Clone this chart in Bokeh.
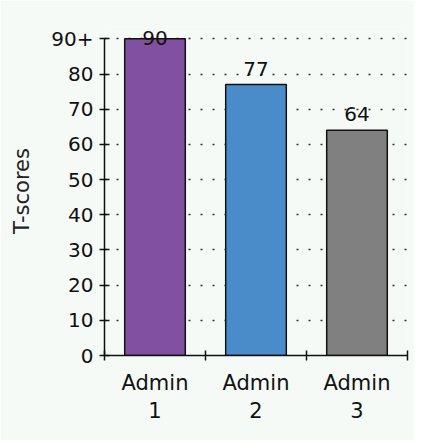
from bokeh.plotting import figure
from bokeh.models import Range1d, FixedTicker, ColumnDataSource, LabelSet
from bokeh.core.properties import value
from bokeh.embed import file_html
from bokeh.resources import INLINE

# ---- data ----
categories = ["Admin 1", "Admin 2", "Admin 3"]
scores = [90, 77, 64]
bar_colors = ["#8250a0", "#4a8bc9", "#808080"]
y_ticks = [0, 10, 20, 30, 40, 50, 60, 70, 80, 90]
y_tick_labels = ["0", "10", "20", "30", "40", "50", "60", "70", "80", "90+"]
y_label = "T-scores"

BG = "#f5faf6"
FONT = "DejaVu Sans"
y_max = y_ticks[-1]

n = len(categories)
centers = [i + 0.5 for i in range(n)]
bounds = [float(i) for i in range(n + 1)]

# a little headroom above 90 so the top data label is not clipped
p = figure(width=414, height=440, output_backend="svg", toolbar_location=None,
           x_range=Range1d(0, n), y_range=Range1d(0, y_max + 3.5),
           min_border_left=104, min_border_right=7, min_border_top=26, min_border_bottom=85)
p.background_fill_color = BG
p.border_fill_color = BG
p.outline_line_color = None

src = ColumnDataSource(dict(
    x=centers, top=scores, color=bar_colors,
    label=[str(v) for v in scores],
    off=[9 if v < y_max else -6 for v in scores],
))

p.vbar(x="x", top="top", width=0.6, fill_color="color", line_color="#111111",
       line_width=1.5, source=src)

labels = LabelSet(x="x", y="top", text="label", y_offset="off", source=src,
                  text_align="center", text_baseline="bottom",
                  text_font=value(FONT), text_font_size="20px", text_color="#111111")
p.add_layout(labels)

# x axis: labels at centres, ticks at category boundaries
xa = p.xaxis[0]
xa.ticker = FixedTicker(ticks=centers, minor_ticks=bounds)
xa.major_label_overrides = {c: cat.replace(" ", "\n") for c, cat in zip(centers, categories)}
xa.major_tick_in = 0
xa.major_tick_out = 0
xa.minor_tick_in = 5
xa.minor_tick_out = 5
xa.minor_tick_line_color = "#111111"
xa.minor_tick_line_width = 1.5
xa.axis_line_color = "#111111"
xa.axis_line_width = 1.5
xa.major_label_standoff = 10
xa.major_label_text_font = FONT
xa.major_label_text_font_size = "21px"
xa.major_label_text_color = "#111111"

ya = p.yaxis[0]
ya.bounds = (0, y_max)
ya.ticker = FixedTicker(ticks=y_ticks)
ya.major_label_overrides = {t: s for t, s in zip(y_ticks, y_tick_labels)}
ya.major_tick_in = 5
ya.major_tick_out = 5
ya.major_tick_line_width = 1.5
ya.major_tick_line_color = "#111111"
ya.minor_tick_line_color = None
ya.axis_line_color = "#111111"
ya.axis_line_width = 1.5
ya.major_label_standoff = 6
ya.major_label_text_font = FONT
ya.major_label_text_font_size = "20px"
ya.major_label_text_color = "#111111"
ya.axis_label = y_label
ya.axis_label_text_font = FONT
ya.axis_label_text_font_style = "normal"
ya.axis_label_text_font_size = "21px"
ya.axis_label_text_color = "#222222"
ya.axis_label_standoff = 14

p.xgrid.visible = False
p.ygrid.ticker = FixedTicker(ticks=y_ticks)
p.ygrid.grid_line_color = "#333333"
p.ygrid.grid_line_width = 1.5
p.ygrid.grid_line_dash = "2 10"

open("out.html", "w").write(file_html(p, INLINE))
